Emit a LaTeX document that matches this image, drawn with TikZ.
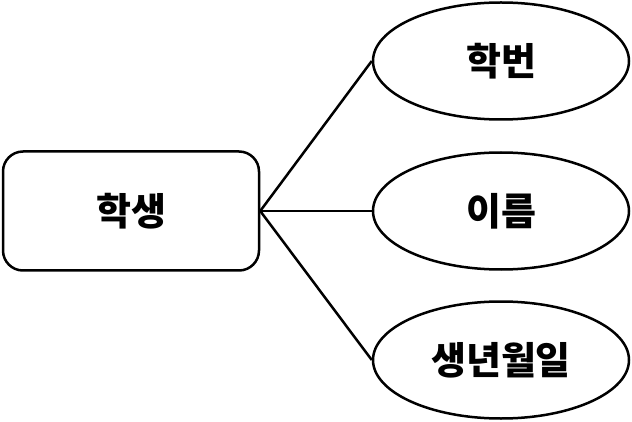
\documentclass[tikz,border=0pt]{standalone}
\usepackage{fontspec}
\usepackage{tikz}
\usetikzlibrary{shapes.geometric}
\newfontfamily\kr{Noto Sans CJK KR}

\begin{document}
\begin{tikzpicture}[x=1pt,y=-1pt,line width=2.5pt,
  entity/.style={draw,rounded corners=20pt,minimum width=256pt,minimum height=119pt,inner sep=0pt},
  attr/.style={draw,ellipse,minimum width=256pt,minimum height=117pt,inner sep=0pt},
  every node/.style={font=\kr\bfseries\fontsize{38}{42}\selectfont}]
  \useasboundingbox (0,0) rectangle (632,422);
  \node[entity] (student) at (131,211) {학생};
  \node[attr] (id) at (501,61) {학번};
  \node[attr] (name) at (501,211) {이름};
  \node[attr] (birth) at (501,360) {생년월일};
  \draw (student.east) -- (id.west);
  \draw (student.east) -- (name.west);
  \draw (student.east) -- (birth.west);
\end{tikzpicture}
\end{document}
